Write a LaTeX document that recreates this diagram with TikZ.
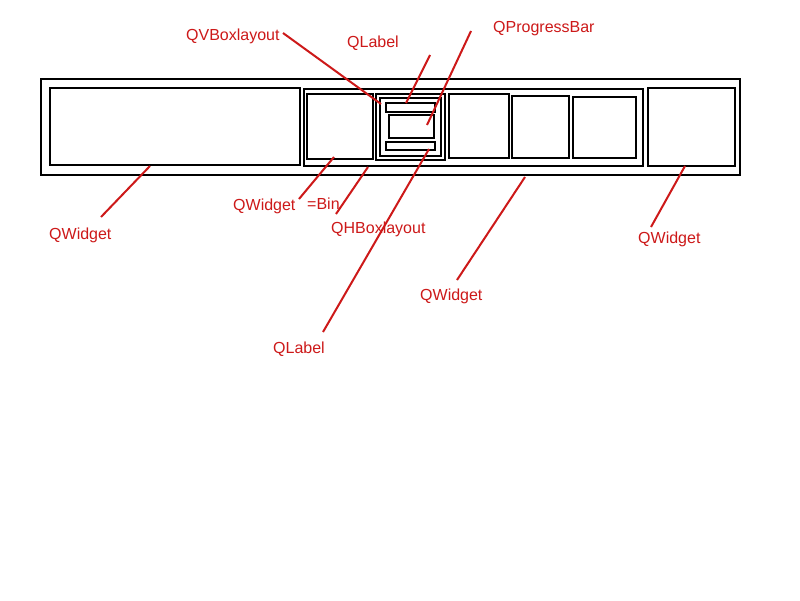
\documentclass[tikz,border=0pt]{standalone}
\usepackage{fontspec}
\setmainfont{Liberation Sans}
\definecolor{annred}{RGB}{205,25,25}
\begin{document}
\begin{tikzpicture}[x=1pt,y=-1pt,
  wbox/.style={draw=black,line width=2pt,inner sep=0pt,minimum width=#1},
  lbl/.style={text=annred,font=\fontsize{16pt}{18pt}\selectfont,inner sep=0pt,anchor=base west},
  conn/.style={draw=annred,line width=2pt}]
\useasboundingbox[fill=white] (0,0) rectangle (800,600);
% boxes
\node[wbox=699pt,minimum height=96pt] (outer) at (390.5,127) {};
\node[wbox=250pt,minimum height=77pt] (left) at (175,126.5) {};
\node[wbox=339pt,minimum height=77pt] (mid) at (473.5,127.5) {};
\node[wbox=66pt,minimum height=65pt] (bin) at (340,126.5) {};
\node[wbox=69pt,minimum height=66pt] (hbox) at (410.5,127) {};
\node[wbox=61pt,minimum height=58pt] (vbox) at (410.5,127) {};
\node[wbox=49pt,minimum height=9pt] (labA) at (410.5,107.5) {};
\node[wbox=45pt,minimum height=23pt] (pbar) at (411.5,126.5) {};
\node[wbox=49pt,minimum height=8pt] (labB) at (410.5,146) {};
\node[wbox=60pt,minimum height=64pt] (wa) at (479,126) {};
\node[wbox=57pt,minimum height=62pt] (wb) at (540.5,127) {};
\node[wbox=63pt,minimum height=61pt] (wc) at (604.5,127.5) {};
\node[wbox=87pt,minimum height=78pt] (right) at (691.5,127) {};
% labels
\node[lbl] (tVBox) at (186,40) {QVBoxlayout};
\node[lbl] (tLabA) at (347,47) {QLabel};
\node[lbl] (tPbar) at (493,32) {QProgressBar};
\node[lbl] (tLeft) at (49,239) {QWidget};
\node[lbl] (tBin) at (233,210) {QWidget};
\node[lbl] (tBinEq) at (307,209) {=Bin};
\node[lbl] (tHBox) at (331,233) {QHBoxlayout};
\node[lbl] (tMid) at (420,300) {QWidget};
\node[lbl] (tRight) at (638,243) {QWidget};
\node[lbl] (tLabB) at (273,353) {QLabel};
% connector end points
\coordinate (s1) at (283,33);  \coordinate (e1) at (381,104);
\coordinate (s2) at (430,55);  \coordinate (e2) at (406,103);
\coordinate (s3) at (471,31);  \coordinate (e3) at (427,125);
\coordinate (s4) at (323,332); \coordinate (e4) at (429,149);
\coordinate (s5) at (101,217); \coordinate (e5) at (150,166);
\coordinate (s6) at (299,199); \coordinate (e6) at (334,157);
\coordinate (s7) at (336,214); \coordinate (e7) at (368,167);
\coordinate (s8) at (457,280); \coordinate (e8) at (525,177);
\coordinate (s9) at (651,227); \coordinate (e9) at (685,166);
% connectors
\draw[conn] (s1) -- (e1);
\draw[conn] (s2) -- (e2);
\draw[conn] (s3) -- (e3);
\draw[conn] (s4) -- (e4);
\draw[conn] (s5) -- (e5);
\draw[conn] (s6) -- (e6);
\draw[conn] (s7) -- (e7);
\draw[conn] (s8) -- (e8);
\draw[conn] (s9) -- (e9);
\end{tikzpicture}
\end{document}
